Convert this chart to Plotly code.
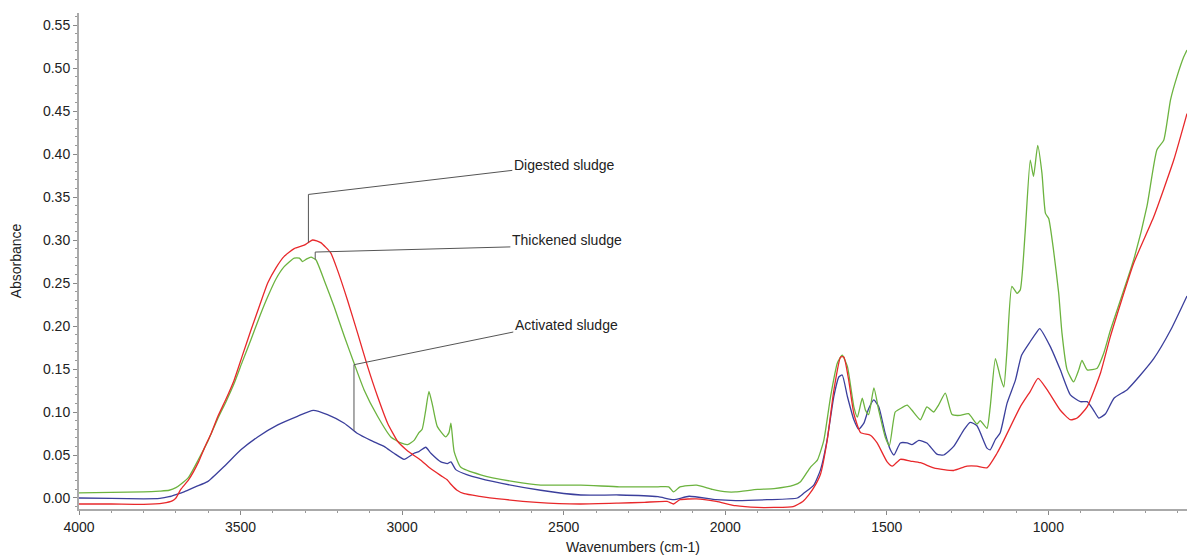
import numpy as np
import plotly.graph_objects as go

# ---- Digested sludge (red) ----
digested_wn = [4000, 3900, 3800, 3740, 3710, 3700, 3685, 3661, 3630, 3612, 3590, 3570,
               3545, 3520, 3495, 3468, 3440, 3416, 3390, 3365, 3334, 3303, 3277, 3252,
               3221, 3200, 3169, 3138, 3107, 3076, 3045, 3014, 2990, 2973, 2942, 2911,
               2880, 2860, 2849, 2830, 2808, 2760, 2700, 2584, 2450, 2330, 2250, 2180,
               2160, 2140, 2089, 2028, 1968, 1900, 1849, 1790, 1760, 1741, 1726, 1705,
               1685, 1664, 1643, 1633, 1618, 1602, 1581, 1551, 1530, 1499, 1483, 1458,
               1427, 1396, 1355, 1324, 1293, 1252, 1221, 1190, 1159, 1138, 1087, 1056,
               1032, 1004, 963, 932, 911, 880, 839, 808, 736, 674, 612, 571]
digested_abs = [-0.007, -0.007, -0.0075, -0.006, -0.003, 0.0, 0.010, 0.021, 0.042, 0.058,
                0.076, 0.095, 0.115, 0.137, 0.165, 0.195, 0.225, 0.250, 0.268, 0.281,
                0.290, 0.294, 0.300, 0.297, 0.285, 0.265, 0.230, 0.192, 0.153, 0.118,
                0.087, 0.066, 0.057, 0.052, 0.044, 0.034, 0.026, 0.021, 0.016, 0.009,
                0.005, 0.002, -0.001, -0.005, -0.007, -0.006, -0.005, -0.004, -0.007,
                -0.002, -0.001, -0.004, -0.009, -0.011, -0.011, -0.010, -0.004, 0.004,
                0.012, 0.028, 0.066, 0.125, 0.164, 0.164, 0.137, 0.098, 0.076, 0.073,
                0.064, 0.042, 0.037, 0.045, 0.043, 0.041, 0.035, 0.033, 0.032, 0.037,
                0.037, 0.035, 0.052, 0.067, 0.106, 0.124, 0.139, 0.126, 0.102, 0.091,
                0.093, 0.106, 0.145, 0.188, 0.273, 0.327, 0.393, 0.447]

# ---- Thickened sludge (green) ----
thickened_wn = [4000, 3900, 3800, 3750, 3721, 3700, 3685, 3661, 3630, 3600, 3571, 3545,
                3520, 3495, 3468, 3440, 3416, 3390, 3365, 3334, 3318, 3308, 3295, 3282,
                3267, 3241, 3210, 3179, 3149, 3118, 3076, 3035, 3004, 2983, 2963, 2948,
                2938, 2927, 2917, 2906, 2891, 2865, 2855, 2849, 2839, 2819, 2757, 2654,
                2571, 2447, 2328, 2250, 2208, 2175, 2160, 2140, 2089, 2040, 1993, 1968,
                1900, 1849, 1788, 1767, 1736, 1715, 1695, 1674, 1653, 1638, 1622, 1602,
                1591, 1576, 1566, 1556, 1540, 1525, 1505, 1492, 1474, 1458, 1437, 1422,
                1396, 1376, 1355, 1340, 1319, 1298, 1273, 1247, 1221, 1211, 1190, 1180,
                1164, 1149, 1138, 1128, 1113, 1097, 1087, 1072, 1056, 1046, 1033, 1020,
                1009, 999, 984, 968, 958, 942, 922, 906, 896, 880, 849, 829, 808, 736,
                695, 664, 643, 622, 602, 581, 571]
thickened_abs = [0.006, 0.0065, 0.007, 0.008, 0.009, 0.012, 0.016, 0.024, 0.045, 0.067,
                 0.092, 0.112, 0.133, 0.158, 0.184, 0.212, 0.234, 0.255, 0.269, 0.279,
                 0.279, 0.275, 0.278, 0.280, 0.277, 0.253, 0.222, 0.188, 0.157, 0.126,
                 0.095, 0.071, 0.064, 0.062, 0.067, 0.076, 0.080, 0.102, 0.124, 0.108,
                 0.083, 0.071, 0.076, 0.087, 0.054, 0.036, 0.027, 0.019, 0.015, 0.015,
                 0.013, 0.013, 0.013, 0.013, 0.007, 0.013, 0.015, 0.010, 0.007, 0.007,
                 0.010, 0.011, 0.015, 0.019, 0.036, 0.044, 0.067, 0.118, 0.157, 0.166,
                 0.153, 0.106, 0.094, 0.116, 0.102, 0.097, 0.128, 0.102, 0.071, 0.061,
                 0.100, 0.104, 0.108, 0.102, 0.091, 0.106, 0.100, 0.108, 0.122, 0.097,
                 0.096, 0.098, 0.086, 0.090, 0.081, 0.106, 0.162, 0.141, 0.129, 0.172,
                 0.246, 0.238, 0.242, 0.308, 0.393, 0.374, 0.410, 0.378, 0.331, 0.325,
                 0.288, 0.238, 0.192, 0.149, 0.135, 0.149, 0.160, 0.149, 0.151, 0.168,
                 0.195, 0.277, 0.339, 0.405, 0.416, 0.463, 0.490, 0.513, 0.521]

# ---- Activated sludge (blue) ----
activated_wn = [4000, 3900, 3800, 3750, 3721, 3700, 3673, 3640, 3602, 3550, 3499, 3447,
                3385, 3324, 3275, 3231, 3179, 3138, 3097, 3056, 3025, 2994, 2963, 2948,
                2927, 2911, 2880, 2860, 2849, 2834, 2798, 2716, 2571, 2447, 2328, 2208,
                2160, 2112, 2028, 1968, 1870, 1777, 1757, 1726, 1705, 1685, 1664, 1648,
                1638, 1622, 1602, 1587, 1571, 1556, 1540, 1525, 1505, 1489, 1478, 1458,
                1437, 1422, 1401, 1376, 1345, 1324, 1293, 1262, 1242, 1221, 1190, 1180,
                1164, 1149, 1128, 1102, 1083, 1056, 1036, 1027, 994, 963, 932, 901, 880,
                860, 844, 823, 797, 756, 715, 674, 622, 571]
activated_abs = [0.0, -0.0005, -0.001, -0.0005, 0.0015, 0.004, 0.0075, 0.013, 0.019,
                 0.037, 0.056, 0.071, 0.085, 0.095, 0.102, 0.097, 0.087, 0.075, 0.067,
                 0.060, 0.052, 0.045, 0.052, 0.054, 0.059, 0.052, 0.042, 0.040, 0.042,
                 0.033, 0.027, 0.019, 0.009, 0.0035, 0.0035, 0.0015, -0.002, 0.002,
                 -0.002, -0.003, -0.002, 0.0, 0.0055, 0.015, 0.033, 0.067, 0.118, 0.141,
                 0.143, 0.118, 0.091, 0.080, 0.087, 0.104, 0.114, 0.106, 0.075, 0.056,
                 0.050, 0.064, 0.064, 0.062, 0.067, 0.064, 0.051, 0.050, 0.060, 0.079,
                 0.088, 0.084, 0.058, 0.056, 0.068, 0.076, 0.110, 0.137, 0.166, 0.182,
                 0.193, 0.197, 0.176, 0.149, 0.120, 0.112, 0.112, 0.102, 0.093, 0.098,
                 0.116, 0.126, 0.143, 0.162, 0.195, 0.235]

# ---- Axis ticks ----
x_tick_vals = [4000, 3500, 3000, 2500, 2000, 1500, 1000]
y_tick_vals = [0.00, 0.05, 0.10, 0.15, 0.20, 0.25, 0.30, 0.35, 0.40, 0.45, 0.50, 0.55]

# ---- Callout labels: text anchor, line start, elbow, wavenumber of the pointer tip ----
callouts = [
    ("Digested sludge", "digested", (2659, 0.387), (2659, 0.381), (3290, 0.353), 3290),
    ("Thickened sludge", "thickened", (2665, 0.300), (2665, 0.292), (3269, 0.286), 3269),
    ("Activated sludge", "activated", (2656, 0.201), (2656, 0.193), (3149, 0.155), 3149),
]

series = {
    "digested": (digested_wn, digested_abs, "#e8282b", "Digested sludge"),
    "thickened": (thickened_wn, thickened_abs, "#6cb33f", "Thickened sludge"),
    "activated": (activated_wn, activated_abs, "#3b3f9c", "Activated sludge"),
}

fig = go.Figure()
for key in ["activated", "thickened", "digested"]:
    wn, ab, color, name = series[key]
    fig.add_trace(go.Scatter(
        x=wn, y=ab, mode="lines", name=name,
        line=dict(color=color, width=1.3, shape="spline", smoothing=0.5),
        hoverinfo="x+y+name",
    ))

shapes = []
annotations = []
for label, key, text_pos, start, elbow, tip_wn in callouts:
    wn, ab, _, _ = series[key]
    # the curves are stored from high to low wavenumber; np.interp needs ascending x
    tip_abs = float(np.interp(tip_wn, wn[::-1], ab[::-1]))
    path = (f"M {start[0]},{start[1]} L {elbow[0]},{elbow[1]} "
            f"L {tip_wn},{tip_abs}")
    shapes.append(dict(type="path", xref="x", yref="y", path=path,
                       line=dict(color="#555555", width=1)))
    annotations.append(dict(
        x=text_pos[0], y=text_pos[1], xref="x", yref="y", text=label,
        showarrow=False, xanchor="left", yanchor="middle",
        font=dict(family="Liberation Sans, Arial, sans-serif", size=14, color="#222222"),
    ))

axis_font = dict(family="Liberation Sans, Arial, sans-serif", size=14, color="#222222")

fig.update_layout(
    width=1187, height=555,
    margin=dict(l=79, r=0, t=13, b=46),
    paper_bgcolor="white", plot_bgcolor="white",
    showlegend=False,
    shapes=shapes,
    annotations=annotations,
    xaxis=dict(
        range=[4000, 571], autorange=False,
        tickmode="array", tickvals=x_tick_vals, ticktext=[str(v) for v in x_tick_vals],
        ticks="outside", ticklen=4, tickcolor="#888888",
        minor=dict(dtick=100, ticks="outside", ticklen=2, tickcolor="#999999"),
        showline=True, linecolor="#aaaaaa", linewidth=2,
        showgrid=False, zeroline=False,
        tickfont=axis_font,
        title=dict(text="Wavenumbers (cm-1)", font=axis_font, standoff=10),
        automargin=False,
    ),
    yaxis=dict(
        range=[-0.0128, 0.564], autorange=False,
        tickmode="array", tickvals=y_tick_vals,
        ticktext=[f"{v:.2f}" for v in y_tick_vals],
        ticks="outside", ticklen=4, tickcolor="#888888",
        minor=dict(dtick=0.01, ticks="outside", ticklen=2, tickcolor="#999999"),
        showline=True, linecolor="#aaaaaa", linewidth=2,
        showgrid=False, zeroline=False,
        tickfont=axis_font,
        title=dict(text="Absorbance", font=axis_font, standoff=18),
        automargin=False,
    ),
)

fig.write_html("out.html")
